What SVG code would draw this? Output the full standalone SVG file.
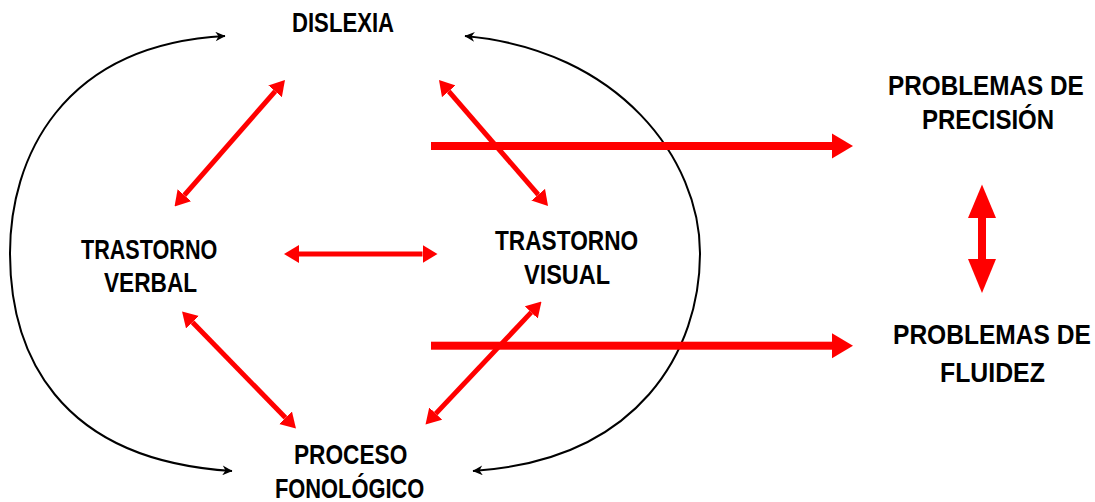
<svg xmlns="http://www.w3.org/2000/svg" width="1095" height="502" viewBox="0 0 1095 502">
<style>
.lbl{font-family:"Liberation Sans",Arial,sans-serif;font-weight:bold;font-size:27px;fill:#000}
.red{stroke:#ff0000;stroke-width:5;fill:none}
.blk{stroke:#000;stroke-width:2;fill:none}
.fill{fill:#ff0000}
</style>
<defs>
<marker id="rh" markerUnits="userSpaceOnUse" viewBox="0 -9 15 18" refX="0" refY="0" markerWidth="15" markerHeight="18" orient="auto-start-reverse">
<path d="M0,-9 L15,0 L0,9 Z" fill="#ff0000"/>
</marker>
<marker id="bh" markerUnits="userSpaceOnUse" viewBox="-10 -5 11 10" refX="0" refY="0" markerWidth="11" markerHeight="10" orient="auto-start-reverse">
<path d="M0.5,0 L-9.5,-4.8 L-6.5,0 L-9.5,4.8 Z" fill="#000"/>
</marker>
</defs>
<rect width="1095" height="502" fill="#fff"/>
<g id="connectors">
<path class="blk" d="M225,36 C60,45 10,160 10,253 C10,350 55,460 232,471" marker-start="url(#bh)" marker-end="url(#bh)"/>
<path class="blk" d="M465,36 C620,50 700,160 700,253 C700,350 640,460 473,471" marker-start="url(#bh)" marker-end="url(#bh)"/>
<path class="red" d="M275.1,91.3 L184.4,195.2" marker-start="url(#rh)" marker-end="url(#rh)"/>
<path class="red" d="M448.8,91.3 L538.2,194.7" marker-start="url(#rh)" marker-end="url(#rh)"/>
<path class="red" d="M299,254 L422.5,254" marker-start="url(#rh)" marker-end="url(#rh)"/>
<path class="red" d="M192.5,322.2 L285.5,417.8" marker-start="url(#rh)" marker-end="url(#rh)"/>
<path class="red" d="M531.2,312.4 L435.8,413.6" marker-start="url(#rh)" marker-end="url(#rh)"/>
<g id="thick1">
<rect class="fill" x="431" y="142" width="402" height="8"/>
<polygon class="fill" points="832,133.5 853,146 832,158.5"/>
</g>
<g id="thick2">
<rect class="fill" x="431" y="341.7" width="402" height="8"/>
<polygon class="fill" points="832,333.2 853,345.7 832,358.2"/>
</g>
<g id="vert">
<rect class="fill" x="978" y="217" width="8" height="43"/>
<polygon class="fill" points="968,218 982,184.5 996,218"/>
<polygon class="fill" points="968,259 982,293 996,259"/>
</g>
</g>
<g id="dislexia"><text class="lbl" transform="translate(292,32) scale(0.82,1)">DISLEXIA</text></g>
<g id="trastorno-verbal">
<text class="lbl" transform="translate(81,259) scale(0.80,1)">TRASTORNO</text>
<text class="lbl" transform="translate(104,292) scale(0.84,1)">VERBAL</text>
</g>
<g id="trastorno-visual">
<text class="lbl" transform="translate(495,249.5) scale(0.84,1)">TRASTORNO</text>
<text class="lbl" transform="translate(524,284) scale(0.87,1)">VISUAL</text>
</g>
<g id="proceso-fonologico">
<text class="lbl" transform="translate(294,463.5) scale(0.84,1)">PROCESO</text>
<text class="lbl" transform="translate(275,498) scale(0.81,1)">FONOLÓGICO</text>
</g>
<g id="problemas-precision">
<text class="lbl" transform="translate(888,95) scale(0.90,1)">PROBLEMAS DE</text>
<text class="lbl" transform="translate(922,129) scale(0.89,1)">PRECISIÓN</text>
</g>
<g id="problemas-fluidez">
<text class="lbl" transform="translate(893,344) scale(0.91,1)">PROBLEMAS DE</text>
<text class="lbl" transform="translate(940,382) scale(0.92,1)">FLUIDEZ</text>
</g>
</svg>
